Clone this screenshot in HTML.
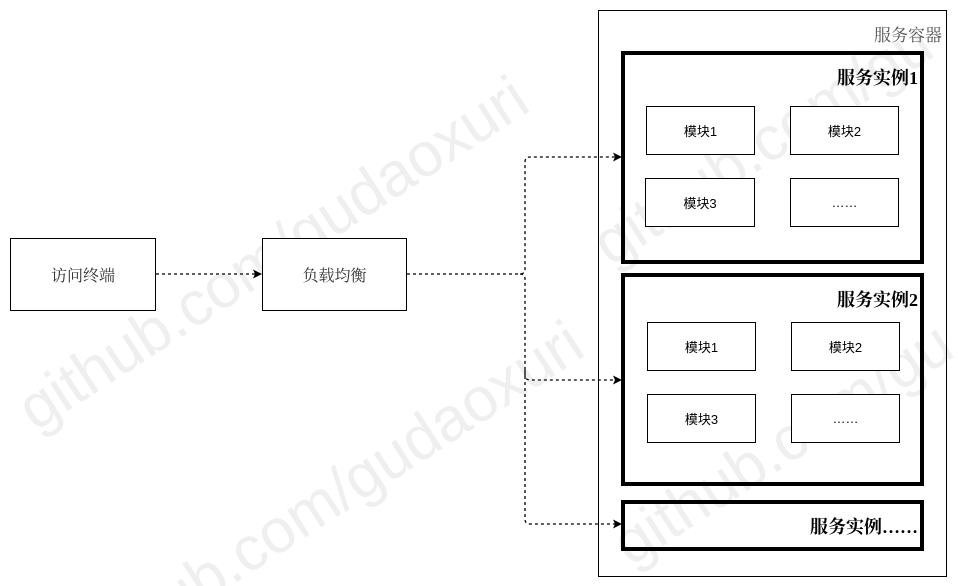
<!DOCTYPE html>
<html style="overflow:hidden"><head><meta charset="utf-8"><style>
html,body{margin:0;width:958px;height:586px;overflow:hidden}
body{background:#fff;position:relative;font-family:"Liberation Sans","Noto Sans CJK SC",sans-serif}
.b{position:absolute;box-sizing:border-box;border:1px solid #000;background:#fff;display:flex;align-items:center;justify-content:center;font-size:13px;color:#000}
.t{position:absolute;box-sizing:border-box;border:4px solid #000;}
.wm{position:absolute;font-size:62px;color:#efefef;transform:rotate(-33deg);transform-origin:left top;white-space:nowrap;font-family:"Liberation Sans",sans-serif}
.s{font-family:"Liberation Serif","Noto Serif CJK SC",serif}
</style></head><body>
<div style="position:absolute;left:0;top:0;width:958px;height:586px;overflow:hidden">
<div class="wm" style="left:5px;top:385px">github.com/gudaoxuri</div>
<div class="wm" style="left:60px;top:630px">github.com/gudaoxuri</div>
<div class="wm" style="left:580px;top:220px">github.com/gu</div>
<div class="wm" style="left:600px;top:520px">github.com/gu</div>
</div>
<div class="b s" style="left:598px;top:10px;width:349px;height:567px;background:transparent;align-items:flex-start;justify-content:flex-end;padding:10px 4px;font-size:17px;color:#555">服务容器</div>
<div class="t" style="left:621px;top:51px;width:303px;height:213px"></div>
<div class="s" style="position:absolute;left:760px;top:64px;width:158px;text-align:right;font-size:18px;font-weight:bold">服务实例1</div>
<div class="t" style="left:621px;top:273px;width:303px;height:213px"></div>
<div class="s" style="position:absolute;left:760px;top:286px;width:158px;text-align:right;font-size:18px;font-weight:bold">服务实例2</div>
<div class="t" style="left:621px;top:500px;width:303px;height:51px"></div>
<div class="s" style="position:absolute;left:720px;top:513px;width:198px;text-align:right;font-size:18px;font-weight:bold">服务实例……</div>
<div class="b" style="left:646px;top:106px;width:109px;height:49px">模块1</div>
<div class="b" style="left:790px;top:106px;width:109px;height:49px">模块2</div>
<div class="b" style="left:645px;top:178px;width:110px;height:49px">模块3</div>
<div class="b" style="left:790px;top:178px;width:109px;height:49px">……</div>
<div class="b" style="left:647px;top:322px;width:109px;height:49px">模块1</div>
<div class="b" style="left:791px;top:322px;width:109px;height:49px">模块2</div>
<div class="b" style="left:647px;top:394px;width:109px;height:49px">模块3</div>
<div class="b" style="left:791px;top:394px;width:109px;height:49px">……</div>
<div class="b s" style="left:10px;top:238px;width:146px;height:73px;font-size:16px;color:#333">访问终端</div>
<div class="b s" style="left:262px;top:238px;width:145px;height:73px;font-size:16px;color:#333">负载均衡</div>
<svg style="position:absolute;left:0;top:0" width="958" height="586">
<g fill="none" stroke="#000" stroke-width="1.3" stroke-dasharray="3,3">
<path d="M156 274H255"/>
<path d="M407 274H520Q525 274 525 269V162Q525 157 530 157H615"/>
<path d="M520 274Q525 274 525 279V375Q525 380 530 380H615"/>
<path d="M525 370V519Q525 524 530 524H615"/>
</g>
<g fill="#000">
<path d="M262 274l-9-4.5 2 4.5-2 4.5z"/>
<path d="M622 157l-9-4.5 2 4.5-2 4.5z"/>
<path d="M622 380l-9-4.5 2 4.5-2 4.5z"/>
<path d="M622 524l-9-4.5 2 4.5-2 4.5z"/>
</g>
</svg>
</body></html>
